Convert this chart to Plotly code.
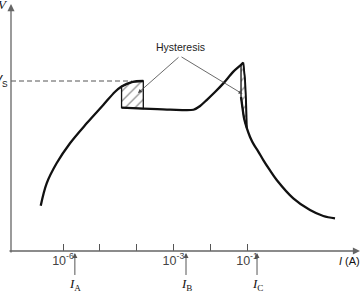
import math
import plotly.graph_objects as go

# ---- data (current in A, voltage normalised so that V_S = 1) ----
left_I = [2.48e-7, 3.6e-7, 6.7e-7, 1.55e-6, 4.4e-6, 1.24e-5, 2.6e-5, 3.9e-5, 7.4e-5, 1.52e-4]
left_V = [0.266, 0.398, 0.516, 0.634, 0.751, 0.859, 0.937, 0.968, 0.994, 1.0]

lower_I = [3.9e-5, 1.52e-4, 8.1e-4, 3.5e-3, 5.3e-3, 8.0e-3, 0.0135, 0.0227, 0.0425, 0.0687, 0.0792]
lower_V = [0.843, 0.838, 0.832, 0.831, 0.853, 0.888, 0.935, 0.986, 1.055, 1.095, 1.108]

edge_I = [0.0792, 0.0883, 0.0940, 0.0969, 0.0982]
edge_V = [1.108, 1.006, 0.888, 0.800, 0.724]

fall_I = [0.0687, 0.0755, 0.0828, 0.0982, 0.1208, 0.155, 0.199, 0.277, 0.422, 0.641, 1.81, 5.15, 11.8, 24.6]
fall_V = [0.906, 0.841, 0.782, 0.724, 0.671, 0.624, 0.588, 0.535, 0.474, 0.418, 0.310, 0.241, 0.206, 0.192]

hyst1_I = [3.9e-5, 7.4e-5, 1.52e-4, 1.52e-4, 3.9e-5, 3.9e-5]
hyst1_V = [0.968, 0.994, 1.0, 0.838, 0.843, 0.968]

hyst2_I = [0.0687, 0.0792, 0.0883, 0.0940, 0.0969, 0.0982, 0.0828, 0.0755, 0.0687, 0.0687]
hyst2_V = [1.095, 1.108, 1.006, 0.888, 0.800, 0.724, 0.782, 0.841, 0.906, 1.095]

V_S = 1.0
tick_vals = [1e-6, 1e-5, 1e-4, 1e-3, 1e-2, 1e-1]
tick_text = ["10<sup>-6</sup>", "", "", "10<sup>-3</sup>", "", "10<sup>-1</sup>"]
marker_I = {"A": 2.1e-6, "B": 2.2e-3, "C": 0.187}
x_range = [-7.413, 2.07]
y_range = [0, 1.453]

INK = "#111"
GREY = "#555"
FONT = "Liberation Sans, Arial, sans-serif"

fig = go.Figure()

# hatched hysteresis regions
for xi, yi in [(hyst1_I, hyst1_V), (hyst2_I, hyst2_V)]:
    fig.add_trace(go.Scatter(
        x=xi, y=yi, mode="lines", fill="toself",
        fillcolor="rgba(0,0,0,0)",
        fillpattern=dict(shape="/", fgcolor="#333", bgcolor="rgba(255,255,255,0)",
                         size=7, solidity=0.2),
        line=dict(color=INK, width=1.3), hoverinfo="skip", showlegend=False))

# dashed V_S line
fig.add_trace(go.Scatter(x=[10 ** x_range[0], 7.4e-5], y=[V_S, V_S], mode="lines",
                         line=dict(color=GREY, width=1, dash="5px,3px"),
                         showlegend=False, hoverinfo="skip"))

line_kw = dict(mode="lines", showlegend=False, hoverinfo="skip")
fig.add_trace(go.Scatter(x=left_I, y=left_V, line=dict(color=INK, width=2.3, shape="spline", smoothing=1.0), **line_kw))
fig.add_trace(go.Scatter(x=lower_I, y=lower_V, line=dict(color=INK, width=2.3, shape="spline", smoothing=0.8), **line_kw))
fig.add_trace(go.Scatter(x=edge_I, y=edge_V, line=dict(color=INK, width=1.8, shape="spline", smoothing=0.5), **line_kw))
fig.add_trace(go.Scatter(x=fall_I, y=fall_V, line=dict(color=INK, width=2.3, shape="spline", smoothing=1.0), **line_kw))

ann = []
# axes arrows
ann.append(dict(x=0, y=1, xref="paper", yref="paper", ax=0, ay=250, axref="pixel", ayref="pixel",
                text="", showarrow=True, arrowhead=2, arrowsize=1.1, arrowwidth=1.3, arrowcolor="#666"))
ann.append(dict(x=1, y=0, xref="paper", yref="paper", ax=-352, ay=0, axref="pixel", ayref="pixel",
                text="", showarrow=True, arrowhead=2, arrowsize=1.1, arrowwidth=1.3, arrowcolor="#666"))
# axis labels
ann.append(dict(x=0, y=0.996, xref="paper", yref="paper", xanchor="right", yanchor="middle", xshift=-1,
                text="<i>V</i>", showarrow=False, font=dict(family="Liberation Serif, serif", size=13, color=INK)))
ann.append(dict(x=0, y=V_S, xref="paper", yref="y", xanchor="right", yanchor="middle", xshift=-1,
                text="<i>V</i><sub>S</sub>", showarrow=False, font=dict(family=FONT, size=12, color=INK)))
ann.append(dict(x=1, y=-0.04, xref="paper", yref="paper", xanchor="right", yanchor="middle", xshift=2,
                text="<i>I</i> (A)", showarrow=False, font=dict(family=FONT, size=11, color=INK)))
# current markers
for name, val in marker_I.items():
    ann.append(dict(x=math.log10(val), y=-0.008, xref="x", yref="paper", ax=0, ay=32,
                    text="<i>I</i><sub>%s</sub>" % name, showarrow=True, arrowhead=2, arrowsize=1,
                    arrowwidth=1, arrowcolor="#555", standoff=0,
                    font=dict(family="Liberation Serif, serif", size=13, color=INK)))
# hysteresis label and arrows
hx, hy = math.log10(2.2e-3) - 0.163, 1.147
ann.append(dict(x=hx, y=1.2, xref="x", yref="y", text="Hysteresis", showarrow=False,
                font=dict(family=FONT, size=10.5, color="#222")))
for tx, ty in [(math.log10(1.09e-4), 0.929), (math.log10(0.0755), 0.924)]:
    ann.append(dict(x=tx, y=ty, xref="x", yref="y", ax=hx, ay=hy, axref="x", ayref="y",
                    text="", showarrow=True, arrowhead=2, arrowsize=1, arrowwidth=0.8, arrowcolor="#444"))

fig.update_layout(
    width=362, height=294, margin=dict(l=11, r=2, t=4, b=43),
    paper_bgcolor="white", plot_bgcolor="white",
    annotations=ann,
    xaxis=dict(type="log", range=x_range, showgrid=False, zeroline=False, showline=False,
               tickmode="array", tickvals=tick_vals, ticktext=tick_text,
               ticks="inside", ticklen=7, tickwidth=1, tickcolor="#555",
               tickfont=dict(family=FONT, size=12.5, color="#444")),
    yaxis=dict(range=y_range, showgrid=False, zeroline=False, showline=False,
               showticklabels=False, ticks=""),
)

fig.write_html("out.html")
